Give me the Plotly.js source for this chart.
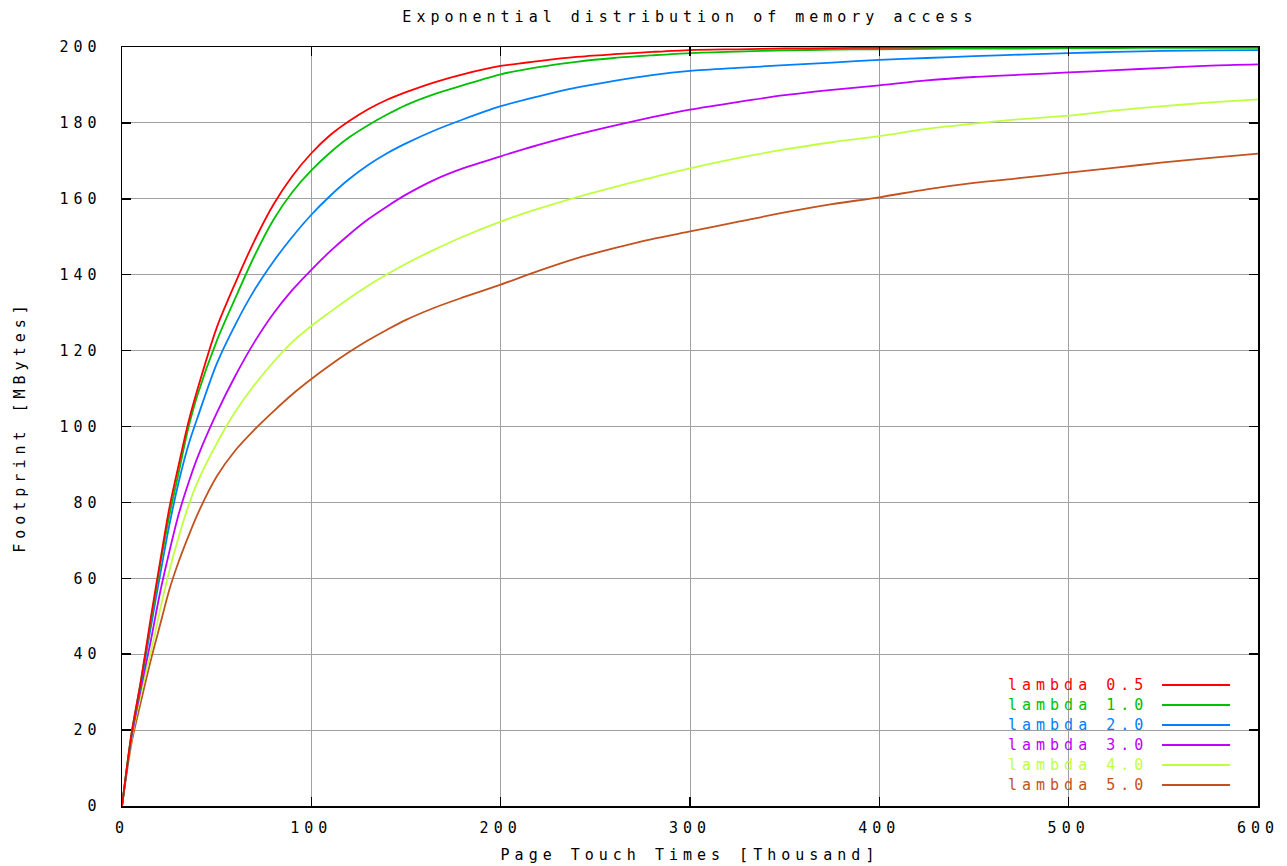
<!DOCTYPE html>
<html>
<head>
<meta charset="utf-8">
<script src="https://cdn.plot.ly/plotly-3.0.1.min.js"></script>
<style>
  html, body { margin: 0; padding: 0; background: #fff; }
  #chart { width: 1287px; height: 866px; }
  svg text { letter-spacing: 5px; }
</style>
</head>
<body>
<div id="chart"></div>
<script>
// Page touch times [thousand]
const xThousand = [0,5,10,15,20,25,30,35,40,50,60,70,80,90,100,110,120,130,140,150,165,180,200,220,240,260,280,300,325,350,375,400,425,450,475,500,525,550,575,600];

// Footprint [MBytes] per lambda
const lambda05 = [0,19,33,49,64,78.5,90,101,110,126,138,149,158.5,166,172,176.8,180.5,183.6,186.1,188.1,190.7,192.8,195.0,196.3,197.4,198.1,198.7,199.2,199.4,199.6,199.7,199.8,199.9,200,200,200,200,200,200,200];
const lambda10 = [0,19,33,48,63,76.5,88,99.5,108.5,122.5,134,145,154.5,161.8,167.5,172.2,176.2,179.4,182.2,184.7,187.6,189.9,192.8,194.7,196.1,197.1,197.8,198.4,198.8,199.1,199.3,199.4,199.5,199.6,199.6,199.7,199.7,199.8,199.8,199.8];
const lambda20 = [0,18.5,32,46.5,60.5,74,85.5,95,102.5,116.5,127,136,143.5,150,155.8,160.8,165.2,168.9,172,174.6,178,180.9,184.4,187,189.3,191.1,192.6,193.7,194.5,195.2,195.9,196.6,197.1,197.6,198,198.4,198.7,199,199.1,199.2];
const lambda30 = [0,18,31,43,56,67,77,85,92,103.5,113.5,122.3,129.8,136,141.3,146.2,150.6,154.6,158,161.1,165,168,171.2,174.2,176.9,179.3,181.5,183.5,185.5,187.3,188.7,189.9,191.2,192.1,192.7,193.3,193.9,194.5,195.1,195.4];
const lambda40 = [0,17.5,29.5,40,51.5,62,71,79,85.5,95.5,104,111,117,122.3,126.5,130.2,133.8,137.1,140.1,142.9,146.6,150,154,157.4,160.4,163.1,165.6,168,170.7,173,174.9,176.5,178.4,179.8,181,181.9,183.3,184.4,185.4,186.2];
const lambda50 = [0,16.5,27.5,38,47.5,57,64.5,71,77,86.8,93.8,99.2,104,108.5,112.5,116.2,119.6,122.7,125.5,128.1,131.3,134,137.4,141,144.3,147,149.4,151.4,153.9,156.4,158.6,160.4,162.5,164.2,165.5,166.9,168.2,169.6,170.8,171.9];

const seriesNames = ['lambda 0.5','lambda 1.0','lambda 2.0','lambda 3.0','lambda 4.0','lambda 5.0'];
const seriesValues = [lambda05, lambda10, lambda20, lambda30, lambda40, lambda50];
const seriesColors = ['#ff0000','#00c000','#0080ff','#c000ff','#c0ff40','#c4521e'];

const FONT = 'DejaVu Sans Mono, Liberation Mono, monospace';

// draw in reverse so red sits on top
const traces = [];
for (let i = seriesNames.length - 1; i >= 0; i--) {
  traces.push({
    type: 'scatter', mode: 'lines',
    name: seriesNames[i],
    x: xThousand, y: seriesValues[i],
    line: { color: seriesColors[i], width: 1.8, shape: 'spline', smoothing: 0.8 },
    showlegend: false,
    hoverinfo: 'skip'
  });
}

// gnuplot-style key: text, then line sample to its right
const annotations = [];
const shapes = [];
const keyTop = 0.1594, keyStep = 0.02635;
seriesNames.forEach((n, i) => {
  const yy = keyTop - i * keyStep;
  annotations.push({
    xref: 'paper', yref: 'paper', x: 0.905, y: yy,
    xanchor: 'right', yanchor: 'middle', showarrow: false,
    text: n, font: { family: FONT, size: 15, color: seriesColors[i] }
  });
  shapes.push({
    type: 'line', xref: 'paper', yref: 'paper',
    x0: 0.9155, x1: 0.9754, y0: yy, y1: yy,
    line: { color: seriesColors[i], width: 1.8 }
  });
});

const axisCommon = {
  showgrid: true, gridcolor: '#a0a0a0', gridwidth: 1,
  ticks: 'inside', ticklen: 9, tickwidth: 1.5, tickcolor: '#000',
  showline: true, linecolor: '#000', linewidth: 1.5, mirror: 'ticks',
  zeroline: false,
  tickfont: { family: FONT, size: 15, color: '#000' }
};

const layout = {
  width: 1287, height: 866,
  margin: { l: 122, r: 29, t: 47, b: 60 },
  paper_bgcolor: '#fff', plot_bgcolor: '#fff',
  title: {
    text: 'Exponential distribution of memory access',
    font: { family: FONT, size: 15, color: '#000' },
    xref: 'paper', x: 0.5, xanchor: 'center',
    yref: 'container', y: 0.981, yanchor: 'middle'
  },
  xaxis: Object.assign({}, axisCommon, {
    range: [0, 600], tick0: 0, dtick: 100,
    ticklabelstandoff: 7,
    title: { text: 'Page Touch Times [Thousand]', font: { family: FONT, size: 15, color: '#000' }, standoff: 14 }
  }),
  yaxis: Object.assign({}, axisCommon, {
    range: [0, 200], tick0: 0, dtick: 20,
    ticklabelstandoff: 16,
    title: { text: 'Footprint [MBytes]', font: { family: FONT, size: 15, color: '#000' }, standoff: 30 }
  }),
  annotations: annotations,
  shapes: shapes,
  showlegend: false
};

Plotly.newPlot('chart', traces, layout, { displayModeBar: false, staticPlot: true });
</script>
</body>
</html>
